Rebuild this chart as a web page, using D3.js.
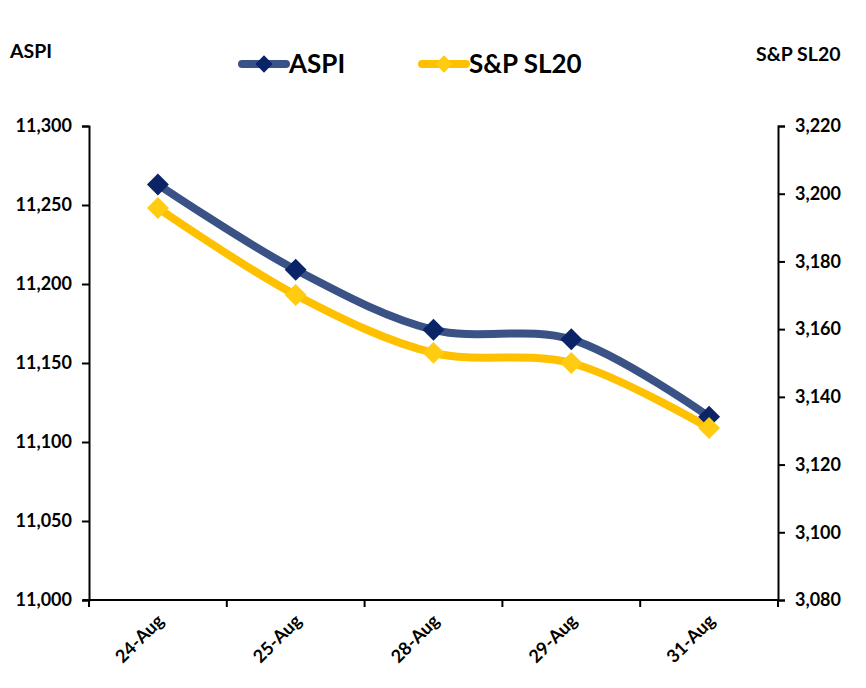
<!DOCTYPE html>
<html lang="en">
<head>
    <meta charset="UTF-8">
    <title>ASPI vs S&amp;P SL20</title>
    <script src="https://cdn.jsdelivr.net/npm/d3@7"></script>
    <style>
        body { margin: 0; background: #fff; }
        text { font-family: "Lato", "Open Sans", sans-serif; font-weight: bold; fill: #000; }
        .axis path, .axis line { stroke: #000; stroke-width: 2; }
    </style>
</head>
<body>
    <script>
        let width = 866;
        let height = 688;

        let dates = ["24-Aug", "25-Aug", "28-Aug", "29-Aug", "31-Aug"];
        let aspi = [11263, 11209, 11171, 11165, 11116];
        let sl20 = [3195.8, 3170.1, 3153.0, 3150.0, 3130.8];
        let leftTicks = [11000, 11050, 11100, 11150, 11200, 11250, 11300];
        let rightTicks = [3080, 3100, 3120, 3140, 3160, 3180, 3200, 3220];

        let plotLeft = 89, plotRight = 778, plotTop = 126, plotBottom = 600;

        let svg = d3.select("body")
            .append("svg")
            .attr("width", width)
            .attr("height", height);

        let xScale = d3.scaleBand()
            .domain(dates)
            .range([plotLeft, plotRight]);

        let yLeft = d3.scaleLinear()
            .domain([11000, 11300])
            .range([plotBottom, plotTop]);

        let yRight = d3.scaleLinear()
            .domain([3080, 3220])
            .range([plotBottom, plotTop]);

        let fmt = d3.format(",");

        // axes
        let gl = svg.append("g")
            .attr("class", "axis")
            .attr("transform", "translate(" + plotLeft + ",0)")
            .call(d3.axisLeft(yLeft).tickValues(leftTicks).tickFormat(fmt).tickSizeOuter(0).tickSize(7).tickPadding(10));
        gl.selectAll("text").attr("font-size", "18px");

        let gr = svg.append("g")
            .attr("class", "axis")
            .attr("transform", "translate(" + plotRight + ",0)")
            .call(d3.axisRight(yRight).tickValues(rightTicks).tickFormat(fmt).tickSizeOuter(0).tickSize(7).tickPadding(10));
        gr.selectAll("text").attr("font-size", "18px");

        // x axis, ticks sit on category boundaries
        let gx = svg.append("g")
            .attr("class", "axis")
            .attr("transform", "translate(0," + plotBottom + ")");
        gx.append("line")
            .attr("x1", plotLeft - 6).attr("x2", plotRight)
            .attr("y1", 0).attr("y2", 0);
        let bounds = dates.map(d => xScale(d)).concat([plotRight]);
        gx.selectAll(".tk")
            .data(bounds)
            .enter()
            .append("line")
            .attr("class", "tk")
            .attr("x1", d => d).attr("x2", d => d)
            .attr("y1", 0).attr("y2", 7);
        gx.selectAll(".lbl")
            .data(dates)
            .enter()
            .append("text")
            .attr("class", "lbl")
            .attr("font-size", "18px")
            .attr("text-anchor", "end")
            .attr("transform", d => "translate(" + (xScale(d) + xScale.bandwidth() / 2 + 7) + ",22) rotate(-45)")
            .text(d => d);

        let cx = d => xScale(d) + xScale.bandwidth() / 2;

        // smooth lines
        let lineL = d3.line()
            .x((d, i) => cx(dates[i]))
            .y(d => yLeft(d))
            .curve(d3.curveCatmullRom.alpha(0.5));

        let lineR = d3.line()
            .x((d, i) => cx(dates[i]))
            .y(d => yRight(d))
            .curve(d3.curveCatmullRom.alpha(0.5));

        let diamond = d3.symbol().type(d3.symbolSquare).size(240);

        svg.append("path")
            .attr("d", lineR(sl20))
            .attr("fill", "none")
            .attr("stroke", "#FFC000")
            .attr("stroke-width", 8);

        svg.append("path")
            .attr("d", lineL(aspi))
            .attr("fill", "none")
            .attr("stroke", "#3A5285")
            .attr("stroke-width", 8);

        svg.selectAll(".mk-l")
            .data(aspi)
            .enter()
            .append("path")
            .attr("class", "mk-l")
            .attr("d", diamond)
            .attr("transform", (d, i) => "translate(" + cx(dates[i]) + "," + yLeft(d) + ") rotate(45)")
            .attr("fill", "#0B2468");

        svg.selectAll(".mk-r")
            .data(sl20)
            .enter()
            .append("path")
            .attr("class", "mk-r")
            .attr("d", diamond)
            .attr("transform", (d, i) => "translate(" + cx(dates[i]) + "," + yRight(d) + ") rotate(45)")
            .attr("fill", "#FFCC12");

        // axis titles
        svg.append("text")
            .text("ASPI")
            .attr("x", 10)
            .attr("y", 58)
            .attr("font-size", "19.5px");

        svg.append("text")
            .text("S&P SL20")
            .attr("x", 756)
            .attr("y", 61)
            .attr("font-size", "19.5px");

        // legend
        let legend = [
            {name: "ASPI", line: "#3A5285", mark: "#0B2468", x: 240},
            {name: "S&P SL20", line: "#FFC000", mark: "#FFCC12", x: 420}
        ];
        let lg = svg.selectAll(".lg")
            .data(legend)
            .enter()
            .append("g")
            .attr("class", "lg")
            .attr("transform", d => "translate(" + d.x + ",64)");
        lg.append("line")
            .attr("x1", 2).attr("x2", 46)
            .attr("y1", 0).attr("y2", 0)
            .attr("stroke", d => d.line)
            .attr("stroke-width", 8)
            .attr("stroke-linecap", "round");
        lg.append("path")
            .attr("d", d3.symbol().type(d3.symbolSquare).size(150))
            .attr("transform", "translate(24,0) rotate(45)")
            .attr("fill", d => d.mark);
        lg.append("text")
            .text(d => d.name)
            .attr("x", 49)
            .attr("y", 9)
            .attr("font-size", "26px");
    </script>
</body>
</html>
